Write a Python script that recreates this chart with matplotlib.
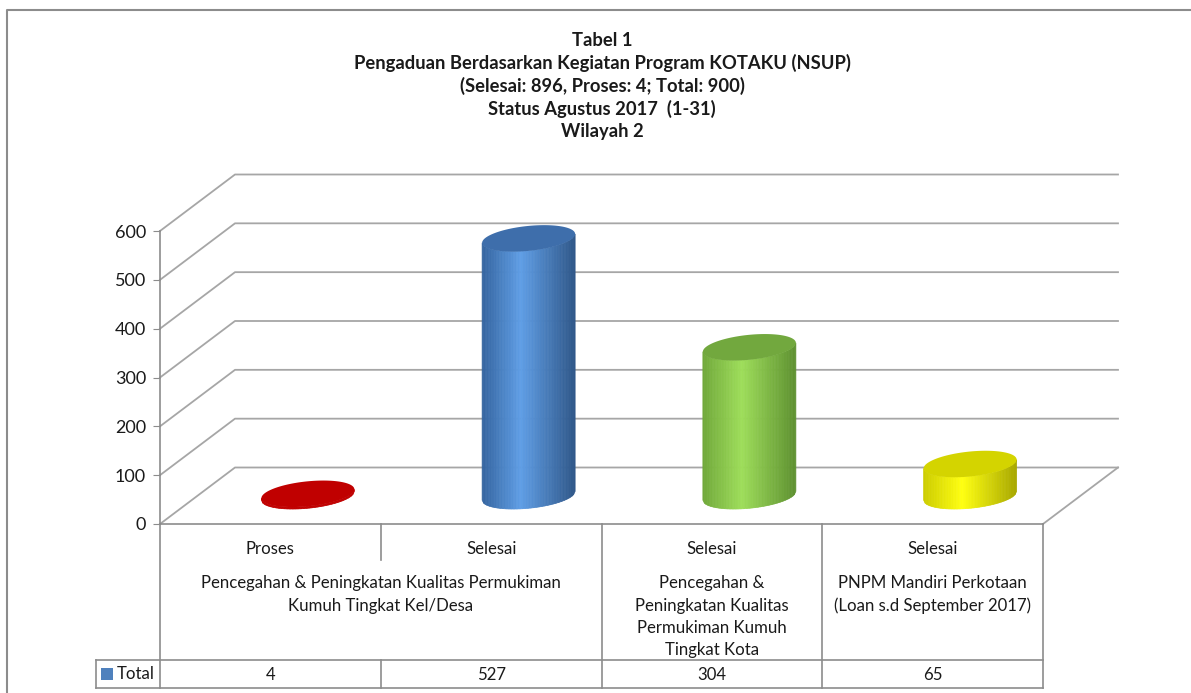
import numpy as np
import matplotlib.pyplot as plt
from matplotlib.colors import LinearSegmentedColormap
from matplotlib.patches import Polygon, Rectangle
from matplotlib.lines import Line2D
from matplotlib.transforms import IdentityTransform

# data
status = ['Proses', 'Selesai', 'Selesai', 'Selesai']
values = [4, 527, 304, 65]
groups = ['Pencegahan & Peningkatan Kualitas Permukiman\nKumuh Tingkat Kel/Desa',
          'Pencegahan &\nPeningkatan Kualitas\nPermukiman Kumuh\nTingkat Kota',
          'PNPM Mandiri Perkotaan\n(Loan s.d September 2017)']
group_span = [2, 1, 1]
series_name = 'Total'
yticks = [0, 100, 200, 300, 400, 500, 600]
title_lines = ['Tabel 1',
               'Pengaduan Berdasarkan Kegiatan Program KOTAKU (NSUP)',
               '(Selesai: 896, Proses: 4; Total: 900)',
               'Status Agustus 2017  (1-31)',
               'Wilayah 2']

# colours per bar: (left edge, highlight, right edge, top)
bar_colors = [('#c00000', '#c00000', '#c00000', '#c00000'),
              ('#34649f', '#5f9ee6', '#2f5789', '#3e6eab'),
              ('#70a83a', '#9ede5a', '#5e9130', '#72a83e'),
              ('#cccc00', '#ffff10', '#a8a800', '#d4d400')]

W, H = 1191, 693
plt.rcParams['font.family'] = ['Lato', 'DejaVu Sans']
fig = plt.figure(figsize=(W / 100, H / 100), dpi=100)
grid_c = '#a6a6a6'
line_c = '#8c8c8c'
txt_c = '#1a1a1a'

# plot area (front plane)
ax = fig.add_axes([160 / W, 1 - 524 / H, 883 / W, 293 / H])
ax.set_xlim(-0.5, 3.5)
ax.set_ylim(0, 600)
ax.patch.set_visible(False)
for s in ['top', 'right']:
    ax.spines[s].set_visible(False)
for s in ['left', 'bottom']:
    ax.spines[s].set_color(line_c)
    ax.spines[s].set_linewidth(1.2)
ax.set_yticks(yticks)
ax.set_xticks([])
ax.tick_params(axis='y', length=5, color=line_c, labelsize=13, pad=5, labelcolor=txt_c)

DX, DY = 75, 56.5  # depth offset in pixels
fig.canvas.draw()


def P(x, v, d):
    px, py = ax.transData.transform((x, v))
    return px + d * DX, py + d * DY


def add_line(pts, **kw):
    xs, ys = zip(*pts)
    ax.add_line(Line2D(xs, ys, transform=IdentityTransform(), clip_on=False, **kw))


# 3d grid walls
for v in yticks:
    add_line([P(-0.5, v, 0), P(-0.5, v, 1), P(3.5, v, 1)], color=grid_c, lw=1.3, zorder=1)
add_line([P(3.5, 0, 0), P(3.5, 0, 1)], color=grid_c, lw=1.3, zorder=1)

# cylinders
a_px, b_px, sh = 46.5, 12.5, 0.095
for i, v in enumerate(values):
    cl, ch, cr, ct = bar_colors[i]
    cmap = LinearSegmentedColormap.from_list('c%d' % i, [(0, cl), (0.42, ch), (1, cr)])
    bx, by = P(i, 0, 0.5)
    tx, ty = P(i, v, 0.5)
    n = 60
    xs = np.linspace(-a_px, a_px, n + 1)
    arc = -b_px * np.sqrt(np.clip(1 - (xs / a_px) ** 2, 0, 1)) + sh * xs
    for k in range(n):
        poly = [(bx + xs[k], by + arc[k]), (bx + xs[k + 1], by + arc[k + 1]),
                (tx + xs[k + 1], ty + arc[k + 1]), (tx + xs[k], ty + arc[k])]
        c = cmap((k + 0.5) / n)
        ax.add_patch(Polygon(poly, closed=True, facecolor=c, edgecolor=c, lw=0.5,
                             transform=IdentityTransform(), clip_on=False, zorder=3))
    t = np.linspace(0, 2 * np.pi, 120)
    top = np.column_stack([tx + a_px * np.cos(t), ty + b_px * np.sin(t) + sh * a_px * np.cos(t)])
    ax.add_patch(Polygon(top, closed=True, facecolor=ct, edgecolor='none',
                         transform=IdentityTransform(), clip_on=False, zorder=4))

# data table below
tab = fig.add_axes([160 / W, 5 / H, 883 / W, 164 / H])
tab.set_xlim(-0.5, 3.5)
tab.set_ylim(164, 0)
tab.axis('off')
lkw = dict(color=line_c, lw=1.2, clip_on=False)
leg_w = 64 / 220.75
tab.plot([-0.5 - leg_w, 3.5], [136, 136], **lkw)
tab.plot([-0.5 - leg_w, 3.5], [164, 164], **lkw)
tab.plot([-0.5 - leg_w, -0.5 - leg_w], [136, 164], **lkw)
tab.plot([-0.5, -0.5], [0, 164], **lkw)
start = 0
for span in group_span:
    end = start + span
    tab.plot([end - 0.5, end - 0.5], [0, 164], **lkw)
    for j in range(start + 1, end):
        tab.plot([j - 0.5, j - 0.5], [0, 36], **lkw)
        tab.plot([j - 0.5, j - 0.5], [136, 164], **lkw)
    start = end

fs = 12.1
for i, s in enumerate(status):
    tab.text(i, 25, s, ha='center', va='center', fontsize=fs, color=txt_c)
    tab.text(i, 151, str(values[i]), ha='center', va='center', fontsize=fs, color=txt_c)
start = 0
for g, span in zip(groups, group_span):
    tab.text(start + (span - 1) / 2, 51, g, ha='center', va='top', fontsize=fs,
             linespacing=1.5, color=txt_c)
    start += span

tab.add_patch(Rectangle((-0.5 - leg_w + 5 / 220.75, 144), 12 / 220.75, 12,
                        facecolor='#4f81bd', edgecolor='none', clip_on=False))
tab.text(-0.5 - leg_w + 21 / 220.75, 150, series_name, ha='left', va='center', fontsize=fs, color=txt_c)

# title
for k, line in enumerate(title_lines):
    fig.text(602 / W, 1 - (40 + 23 * k) / H, line, ha='center', va='center',
             fontsize=13.2, fontweight='bold', color=txt_c)

# chart frame
fig.add_artist(Line2D([7 / W, 7 / W, 1], [0, 1 - 10 / H, 1 - 10 / H], transform=fig.transFigure,
                      color=line_c, lw=1.5))

fig.savefig('out.png', dpi=100)
